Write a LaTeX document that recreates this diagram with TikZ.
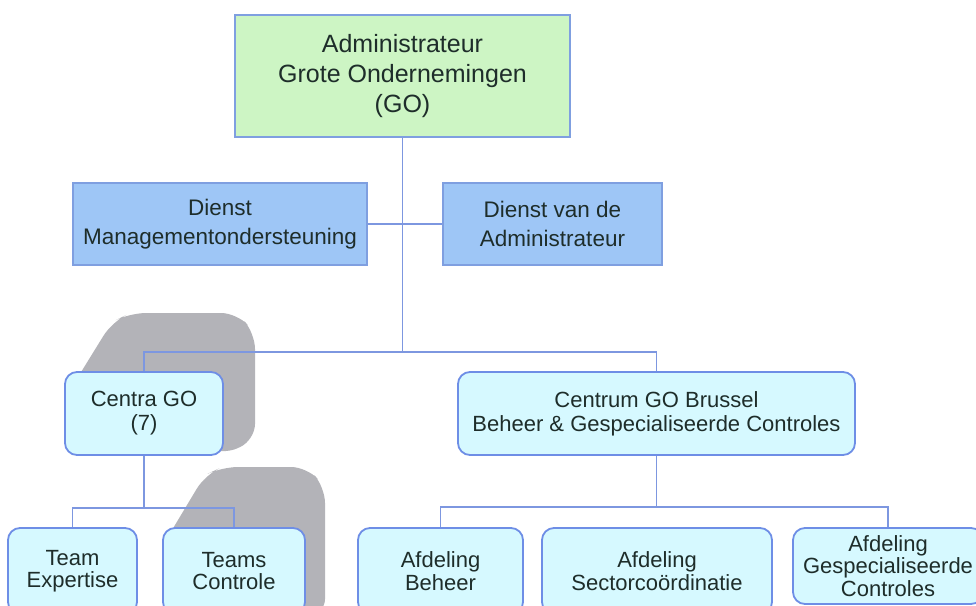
\documentclass[tikz,border=0pt]{standalone}
\usepackage{fontspec}
\setmainfont{Liberation Sans}
\definecolor{linec}{HTML}{7D97E0}
\definecolor{topfill}{HTML}{CDF5C4}
\definecolor{dienstfill}{HTML}{9EC6F6}
\definecolor{dienstdraw}{HTML}{7F9FE0}
\definecolor{roundfill}{HTML}{D6F9FF}
\definecolor{rounddraw}{HTML}{6E8EE6}
\definecolor{txt}{HTML}{1E2D2A}
\definecolor{shadowc}{HTML}{B3B3B8}
\tikzset{
  topbox/.style={draw=dienstdraw, line width=1.6pt, fill=topfill, align=center, text=txt,
    font=\fontsize{25}{30}\selectfont, inner sep=0pt},
  dienstbox/.style={draw=dienstdraw, line width=1.6pt, fill=dienstfill, align=center, text=txt,
    font=\fontsize{22.5}{29}\selectfont, inner sep=0pt, minimum height=82pt},
  unitbox/.style={draw=rounddraw, line width=1.8pt, fill=roundfill, rounded corners=12pt, align=center, text=txt,
    font=\fontsize{22}{24}\selectfont, inner sep=0pt},
  leafbox/.style={draw=rounddraw, line width=1.8pt, fill=roundfill, rounded corners=12pt, align=center, text=txt,
    font=\fontsize{22}{22.5}\selectfont, inner sep=0pt},
  conn/.style={draw=linec, line width=1.8pt},
  shadowshape/.style={fill=shadowc, draw=none, rounded corners=16pt}
}
\begin{document}
\begin{tikzpicture}[x=1pt, y=-1pt]
\useasboundingbox (0,0) rectangle (976,605);
\clip (0,0) rectangle (976,605);
\fill[white] (0,0) rectangle (976,605);

% shadows
\path[shadowshape] (70,390) -- (112,322) -- (130,313) -- (237,313) -- (255,333) -- (255,440) -- (223,455) -- cycle;
\path[shadowshape] (166,540) -- (205,475) -- (222,467) -- (307,467) -- (325,487) -- (325,615) -- (300,615) -- cycle;

% nodes
\node[topbox, minimum width=335pt, minimum height=122pt] (admin) at (402.5,76)
  {Administrateur\\Grote Ondernemingen\\(GO)};
\node[dienstbox, minimum width=294pt] (dm) at (220,224) {Dienst\\Managementondersteuning};
\node[dienstbox, minimum width=219pt] (da) at (552.5,224) {Dienst van de\\Administrateur};

\node[unitbox, minimum width=158pt, minimum height=83pt] (centra) at (144,413.5) {Centra GO\\(7)};
\node[unitbox, minimum width=397pt, minimum height=83pt] (brussel) at (656.5,413.5)
  {Centrum GO Brussel\\Beheer \& Gespecialiseerde Controles};

\node[leafbox, minimum width=129pt, minimum height=86pt] (te) at (72.5,571) {Team\\Expertise};
\node[leafbox, minimum width=142pt, minimum height=86pt] (tc) at (234,571) {Teams\\Controle};
\node[leafbox, minimum width=165pt, minimum height=86pt] (ab) at (440.5,571) {Afdeling\\Beheer};
\node[leafbox, minimum width=230pt, minimum height=86pt] (as) at (657,571) {Afdeling\\Sectorcoördinatie};
\node[leafbox, minimum width=190pt, minimum height=76pt] (ag) at (888,566) {Afdeling\\Gespecialiseerde\\Controles};

% junction points
\coordinate (bar1) at (402.5,352);
\coordinate (bar2) at (144,508);
\coordinate (bar3) at (656.5,507);

% connectors
\draw[conn] (admin.south) -- (bar1);
\draw[conn] (dm.east) -- (da.west);
\draw[conn] (centra.north) |- (brussel.north |- bar1) -- (brussel.north);
\draw[conn] (centra.south) -- (bar2);
\draw[conn] (te.north) |- (tc.north |- bar2) -- (tc.north);
\draw[conn] (brussel.south) -- (bar3);
\draw[conn] (ab.north) |- (ag.north |- bar3) -- (ag.north);
\end{tikzpicture}
\end{document}
